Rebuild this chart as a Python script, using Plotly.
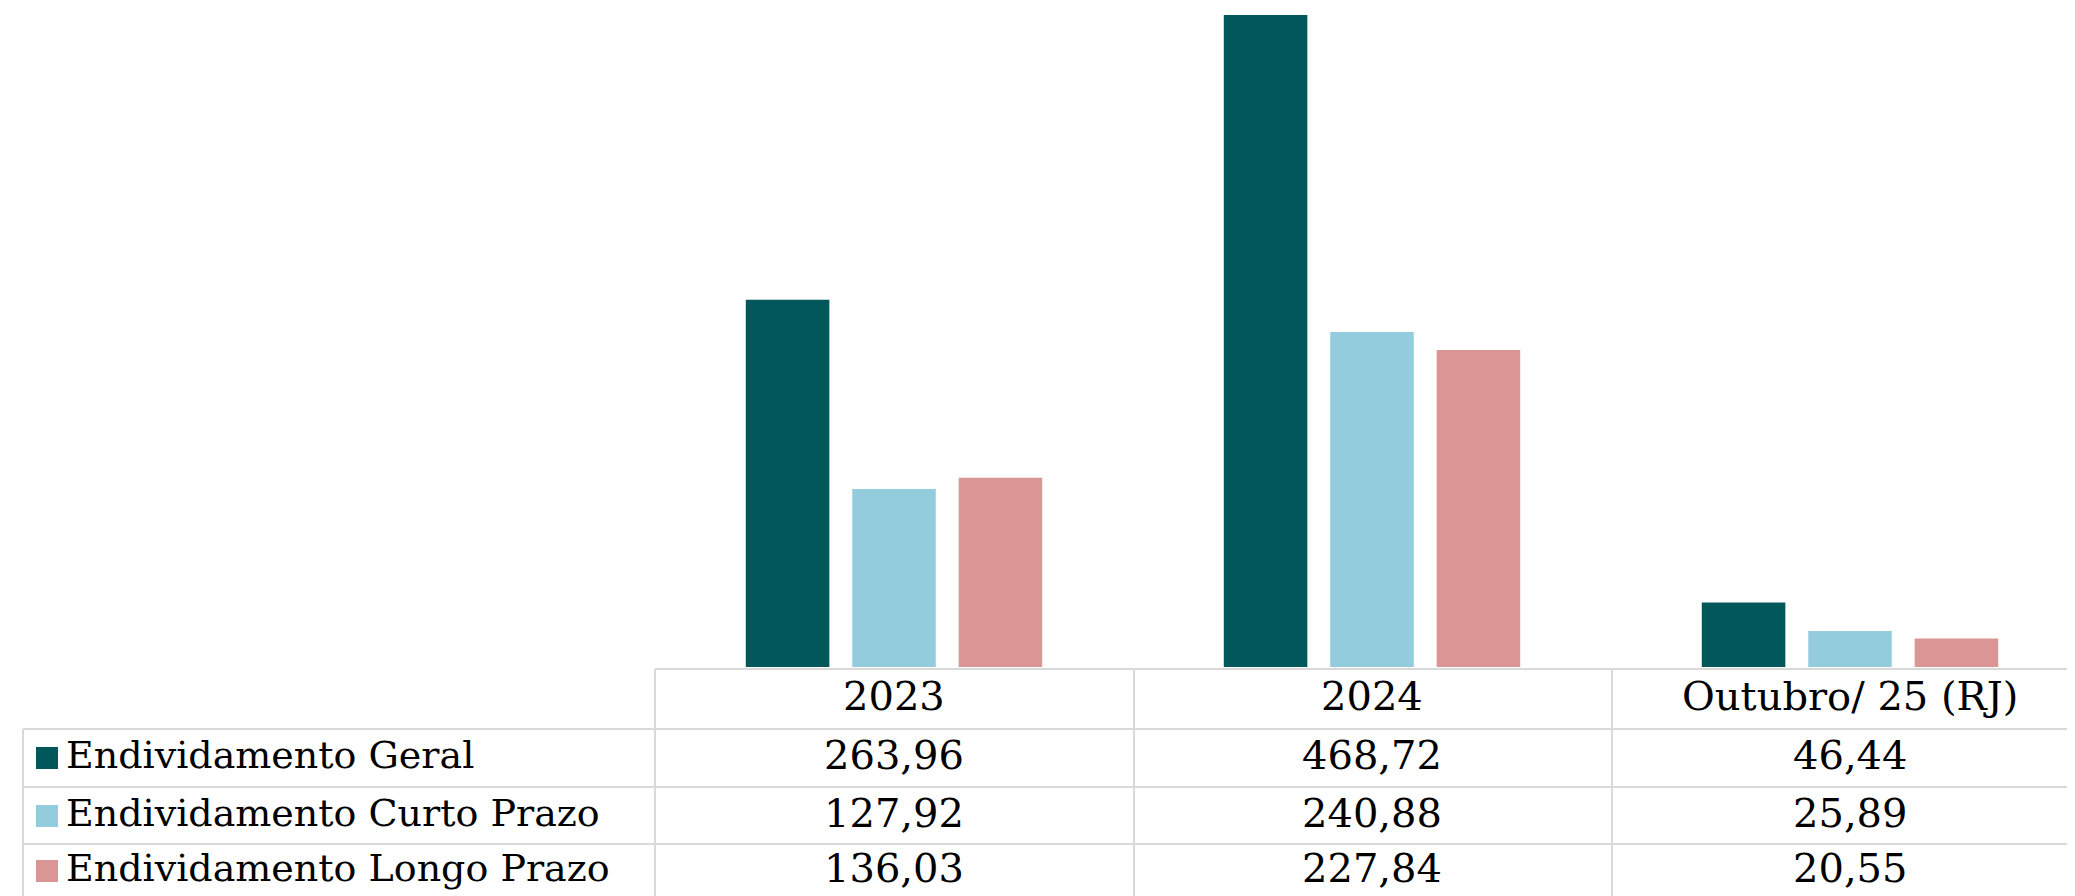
import plotly.graph_objects as go

# a página tem margem de 8px no body: figura menor e coordenadas compensadas
OFF = 8
W, H = 2075 - 2 * OFF, 896 - OFF
COL_W = 478          # largura de cada coluna da tabela (px)
PX_POR_UN = 1.391    # escala vertical (px por unidade)

periodos = ['2023', '2024', 'Outubro/ 25 (RJ)']
series = ['Endividamento Geral', 'Endividamento Curto Prazo', 'Endividamento Longo Prazo']
geral = [263.96, 468.72, 46.44]
curto = [127.92, 240.88, 25.89]
longo = [136.03, 227.84, 20.55]
cores = ['#02575A', '#93CDDD', '#DA9694']

_FONT = 'DejaVu Serif'
_GRID = '#D9D9D9'


def px_x(v):
    return (v - OFF) / W


def px_y(v):
    return 1 - (v - OFF) / H


def fmt(v):
    return f'{v:.2f}'.replace('.', ',')


fig = go.Figure()
for nome, vals, cor in zip(series, [geral, curto, longo], cores):
    fig.add_trace(go.Bar(name=nome, x=periodos, y=vals, marker_color=cor,
                         marker_line_width=0, showlegend=False))

# tabela de dados abaixo do gráfico
col_x = [655, 1134, 1612]
row_y = [729, 787, 844]
shapes = []
for x in col_x:
    shapes.append(dict(type='line', xref='paper', yref='paper',
                       x0=px_x(x), x1=px_x(x), y0=px_y(669), y1=0,
                       line=dict(color=_GRID, width=2)))
shapes.append(dict(type='line', xref='paper', yref='paper',
                   x0=px_x(23), x1=px_x(23), y0=px_y(729), y1=0,
                   line=dict(color=_GRID, width=2)))
shapes.append(dict(type='line', xref='paper', yref='paper',
                   x0=px_x(655), x1=1, y0=px_y(669), y1=px_y(669),
                   line=dict(color=_GRID, width=2)))
for y in row_y:
    shapes.append(dict(type='line', xref='paper', yref='paper',
                       x0=px_x(23), x1=1, y0=px_y(y), y1=px_y(y),
                       line=dict(color=_GRID, width=2)))

annotations = []
# x das anotações = índice da categoria no eixo
for i, p in enumerate(periodos):
    annotations.append(dict(x=i, xref='x', y=px_y(696), yref='paper',
                            text=p, showarrow=False, xanchor='center', yanchor='middle'))

centros = [758, 816, 871]
for nome, vals, cor, yc in zip(series, [geral, curto, longo], cores, centros):
    shapes.append(dict(type='rect', xref='paper', yref='paper',
                       x0=px_x(36), x1=px_x(58), y0=px_y(yc - 11), y1=px_y(yc + 11),
                       fillcolor=cor, line_width=0))
    annotations.append(dict(x=px_x(64), xref='paper', y=px_y(yc - 3), yref='paper',
                            text=nome, showarrow=False, xanchor='left', yanchor='middle',
                            font=dict(size=38)))
    for i, v in enumerate(vals):
        annotations.append(dict(x=i, xref='x', y=px_y(yc - 3), yref='paper',
                                text=fmt(v), showarrow=False, xanchor='center', yanchor='middle'))

x_fim = W + OFF
fig.update_layout(
    width=W, height=H,
    margin=dict(l=0, r=0, t=0, b=0),
    paper_bgcolor='white', plot_bgcolor='white',
    font=dict(family=_FONT, size=40, color='#000000'),
    barmode='group', bargap=0.332, bargroupgap=0.215,
    xaxis=dict(type='category', domain=[px_x(655), 1],
               range=[-0.5, -0.5 + (x_fim - 655) / COL_W],
               showticklabels=False, showgrid=False, zeroline=False,
               showline=False, ticks=''),
    yaxis=dict(domain=[px_y(667), 1], range=[0, (667 - OFF) / PX_POR_UN], visible=False),
    shapes=shapes,
    annotations=annotations,
)

fig.write_html('out.html')
